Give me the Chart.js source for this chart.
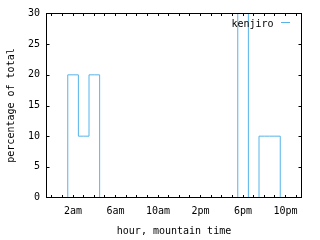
<!DOCTYPE html>
<html>
<head>
<meta charset="utf-8">
<script src="https://cdn.jsdelivr.net/npm/chart.js@4.4.1/dist/chart.umd.min.js"></script>
<style>
  html, body { margin: 0; padding: 0; background: #fff; }
  #wrap { width: 320px; height: 240px; }
</style>
</head>
<body>
<div id="wrap"><canvas id="chart"></canvas></div>
<script>
  // Data: share of activity per hour of the day
  const hours = [0, 1, 2, 3, 4, 5, 6, 7, 8, 9, 10, 11, 12, 13, 14, 15, 16, 17, 18, 19, 20, 21, 22, 23];
  const kenjiro = [0, 0, 20, 10, 20, 0, 0, 0, 0, 0, 0, 0, 0, 0, 0, 0, 0, 0, 30, 0, 10, 10, 0, 0];
  const xTickHours = [2, 6, 10, 14, 18, 22];
  const xTickLabels = ['2am', '6am', '10am', '2pm', '6pm', '10pm'];
  const yTicks = [0, 5, 10, 15, 20, 25, 30];

  const FONT = { family: '"DejaVu Sans Mono", "Liberation Mono", monospace', size: 10 };
  const LINE_COLOR = '#56b4e9';

  Chart.defaults.color = '#000';
  Chart.defaults.font.family = FONT.family;
  Chart.defaults.font.size = FONT.size;

  // gnuplot style frame: border with inward ticks on all four sides
  const framePlugin = {
    id: 'frame',
    afterDatasetsDraw(chart) {
      const { ctx, chartArea: a, scales: { x, y } } = chart;
      ctx.save();
      ctx.strokeStyle = '#000';
      ctx.lineWidth = 1;
      ctx.beginPath();
      hours.forEach(h => {
        const px = Math.floor(x.getPixelForValue(h)) + 0.5;
        ctx.moveTo(px, a.bottom); ctx.lineTo(px, a.bottom - 2.5);
        ctx.moveTo(px, a.top); ctx.lineTo(px, a.top + 2.5);
      });
      yTicks.slice(1, -1).forEach(v => {
        const py = Math.round(y.getPixelForValue(v)) + 0.5;
        ctx.moveTo(a.left, py); ctx.lineTo(a.left + 3, py);
        ctx.moveTo(a.right, py); ctx.lineTo(a.right - 3, py);
      });
      ctx.stroke();
      ctx.strokeRect(a.left, a.top, a.right - a.left, a.bottom - a.top);

      // key in the top right corner
      const ds = chart.data.datasets[0];
      ctx.font = FONT.size + 'px ' + FONT.family;
      ctx.fillStyle = '#000';
      ctx.textAlign = 'left';
      ctx.textBaseline = 'alphabetic';
      ctx.fillText(ds.label, 231.5, 26.5);
      ctx.strokeStyle = ds.borderColor;
      ctx.beginPath();
      ctx.moveTo(281, 22.5); ctx.lineTo(290, 22.5);
      ctx.stroke();
      ctx.restore();
    }
  };

  new Chart(document.getElementById('chart'), {
    type: 'line',
    data: {
      datasets: [{
        label: 'kenjiro',
        data: hours.map((h, i) => ({ x: h, y: kenjiro[i] })),
        borderColor: LINE_COLOR,
        borderWidth: 1,
        pointRadius: 0,
        stepped: 'middle',
        fill: false
      }]
    },
    options: {
      responsive: true,
      maintainAspectRatio: false,
      animation: false,
      layout: { padding: { top: 13.5, right: 18.5, left: 0, bottom: 0 } },
      plugins: { legend: { display: false }, tooltip: { enabled: false } },
      scales: {
        x: {
          type: 'linear',
          min: -0.5,
          max: 23.5,
          grid: { display: false, drawTicks: false },
          border: { display: false },
          afterBuildTicks: s => { s.ticks = xTickHours.map(v => ({ value: v })); },
          afterFit: s => { s.height = 42.5; },
          ticks: {
            padding: 8,
            maxRotation: 0,
            autoSkip: false,
            callback: v => xTickLabels[xTickHours.indexOf(v)]
          },
          title: { display: true, text: 'hour, mountain time', padding: { top: 0, bottom: 3 } }
        },
        y: {
          min: 0,
          max: 30,
          grid: { display: false, drawTicks: false },
          border: { display: false },
          afterBuildTicks: s => { s.ticks = yTicks.map(v => ({ value: v })); },
          afterFit: s => { s.width = 46.5; },
          ticks: { padding: 6.5 },
          title: { display: true, text: 'percentage of total', padding: { top: 5.5, bottom: 0 } }
        }
      }
    },
    plugins: [framePlugin]
  });
</script>
</body>
</html>
